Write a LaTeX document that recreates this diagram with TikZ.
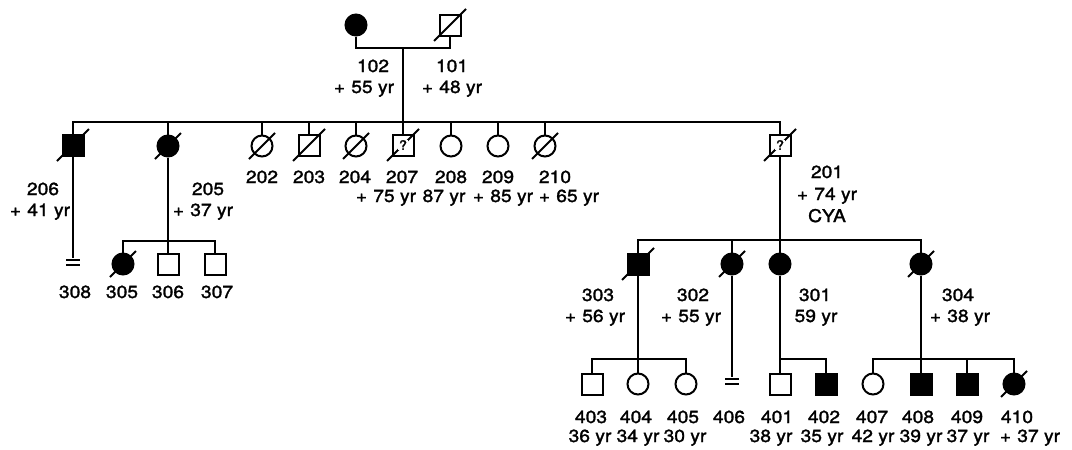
\documentclass[tikz,border=0pt]{standalone}
\usepackage{fontspec}
\setmainfont{TeX Gyre Heros}[FakeStretch=1.1,FakeBold=1.6]
\newcommand\slsq[1]{\draw ([shift={(-16,16)}]#1.center) -- ([shift={(16,-16)}]#1.center);}
\newcommand\slci[1]{\draw ([shift={(-13,13)}]#1.center) -- ([shift={(13,-13)}]#1.center);}
\newcommand\bars[1]{\draw ([shift={(-7,2)}]#1) -- ([shift={(7,2)}]#1); \draw ([shift={(-7,7)}]#1) -- ([shift={(7,7)}]#1);}
\begin{document}
\begin{tikzpicture}[x=1pt,y=-1pt,line width=2pt,
  sq/.style={draw,rectangle,minimum size=21pt,inner sep=0pt},
  ci/.style={draw,circle,minimum size=21pt,inner sep=0pt},
  aff/.style={fill=black},
  lb/.style={inner sep=0pt,anchor=base,font=\fontsize{17.5}{19}\selectfont},
  qm/.style={fill=white,inner sep=0.6pt,font=\fontsize{13}{14}\selectfont}]
\useasboundingbox (0,0) rectangle (1072,450);
% generation I
\node[ci,aff] (n102) at (356,25) {};
\node[sq] (n101) at (450,25) {}; \slsq{n101}
\coordinate (mar) at (403,48);
\coordinate (s2) at (403,122);
\draw (n102.south) |- (mar) -| (n101.south);
\draw (mar) -- (s2);
\node[lb] (l102a) at (373,72) {102};
\node[lb] (l102b) at (364,93) {+\hspace{0.35em}55 yr};
\node[lb] (l101a) at (452,72) {101};
\node[lb] (l101b) at (452,93) {+\hspace{0.35em}48 yr};
% generation II
\node[sq,aff] (n206) at (73,145) {}; \slsq{n206}
\node[ci,aff] (n205) at (168,146) {}; \slci{n205}
\node[ci] (n202) at (262,146) {}; \slci{n202}
\node[sq] (n203) at (309,145) {}; \slsq{n203}
\node[ci] (n204) at (356,146) {}; \slci{n204}
\node[sq] (n207) at (403,145) {}; \slsq{n207}
\node[qm] (q207) at (n207.center) {?};
\node[ci] (n208) at (451,146) {};
\node[ci] (n209) at (498,146) {};
\node[ci] (n210) at (545,146) {}; \slci{n210}
\node[sq] (n201) at (780,145) {}; \slsq{n201}
\node[qm] (q201) at (n201.center) {?};
\draw (n206.north) |- (s2) -| (n201.north);
\foreach \n in {205,202,203,204,207,208,209,210}{\draw (n\n.north) -- (n\n.north |- s2);}
\node[lb] (l206a) at (43,195) {206};
\node[lb] (l206b) at (40,216) {+\hspace{0.35em}41 yr};
\node[lb] (l205a) at (208,195) {205};
\node[lb] (l205b) at (203,216) {+\hspace{0.35em}37 yr};
\node[lb] (l202) at (262,183) {202};
\node[lb] (l203) at (309,183) {203};
\node[lb] (l204) at (355,183) {204};
\node[lb] (l207a) at (402,183) {207};
\node[lb] (l207b) at (386,202) {+\hspace{0.35em}75 yr};
\node[lb] (l208a) at (451,183) {208};
\node[lb] (l208b) at (444,202) {87 yr};
\node[lb] (l209a) at (498,183) {209};
\node[lb] (l209b) at (503,202) {+\hspace{0.35em}85 yr};
\node[lb] (l210a) at (555,183) {210};
\node[lb] (l210b) at (569,202) {+\hspace{0.35em}65 yr};
\node[lb] (l201a) at (827,178) {201};
\node[lb] (l201b) at (827,200) {+\hspace{0.35em}74 yr};
\node[lb] (l201c) at (827,222) {CYA};
% generation III, left
\coordinate (s3l) at (168,241);
\coordinate (m308) at (73,258);
\draw (n206) -- (m308); \bars{m308}
\node[ci,aff] (n305) at (123,264) {}; \slci{n305}
\node[sq] (n306) at (168,264) {};
\node[sq] (n307) at (215,264) {};
\draw (n205) -- (s3l);
\draw (n305.north) |- (s3l) -| (n307.north);
\draw (n306.north) -- (n306.north |- s3l);
\node[lb] (l308) at (75,298) {308};
\node[lb] (l305) at (122,298) {305};
\node[lb] (l306) at (168,298) {306};
\node[lb] (l307) at (217,298) {307};
% generation III, right
\coordinate (s3r) at (780,240);
\node[sq,aff] (n303) at (638,264) {}; \slsq{n303}
\node[ci,aff] (n302) at (732,264) {}; \slci{n302}
\node[ci,aff] (n301) at (780,264) {};
\node[ci,aff] (n304) at (921,264) {}; \slci{n304}
\draw (n201) -- (n301);
\draw (n303.north) |- (s3r) -| (n304.north);
\draw (n302.north) -- (n302.north |- s3r);
\node[lb] (l303a) at (598,301) {303};
\node[lb] (l303b) at (595,322) {+\hspace{0.35em}56 yr};
\node[lb] (l302a) at (693,301) {302};
\node[lb] (l302b) at (691,322) {+\hspace{0.35em}55 yr};
\node[lb] (l301a) at (815,301) {301};
\node[lb] (l301b) at (816,322) {59 yr};
\node[lb] (l304a) at (958,301) {304};
\node[lb] (l304b) at (960,322) {+\hspace{0.35em}38 yr};
% generation IV
\node[sq] (n403) at (592,384) {};
\node[ci] (n404) at (638,384) {};
\node[ci] (n405) at (686,384) {};
\coordinate (m406) at (732,377);
\node[sq] (n401) at (780,384) {};
\node[sq,aff] (n402) at (826,384) {};
\node[ci] (n407) at (873,384) {};
\node[sq,aff] (n408) at (921,384) {};
\node[sq,aff] (n409) at (967,384) {};
\node[ci,aff] (n410) at (1014,384) {}; \slci{n410}
\draw (n302) -- (m406); \bars{m406}
\draw (n303) -- (n404);
\draw (n403.north) |- (n404.north |- 0,359) -| (n405.north);
\draw (n301) -- (n401);
\draw (n401.north |- 0,359) -| (n402.north);
\draw (n304) -- (n408);
\draw (n407.north) |- (n408.north |- 0,359) -| (n410.north);
\draw (n409.north) -- (n409.north |- 0,359);
\node[lb] (l403a) at (591,423) {403};
\node[lb] (l403b) at (590,442) {36 yr};
\node[lb] (l404a) at (636,423) {404};
\node[lb] (l404b) at (638,442) {34 yr};
\node[lb] (l405a) at (683,423) {405};
\node[lb] (l405b) at (685,442) {30 yr};
\node[lb] (l406a) at (729,423) {406};
\node[lb] (l401a) at (777,423) {401};
\node[lb] (l401b) at (771,442) {38 yr};
\node[lb] (l402a) at (824,423) {402};
\node[lb] (l402b) at (822,442) {35 yr};
\node[lb] (l407a) at (872,423) {407};
\node[lb] (l407b) at (873,442) {42 yr};
\node[lb] (l408a) at (918,423) {408};
\node[lb] (l408b) at (921,442) {39 yr};
\node[lb] (l409a) at (967,423) {409};
\node[lb] (l409b) at (968,442) {37 yr};
\node[lb] (l410a) at (1017,423) {410};
\node[lb] (l410b) at (1030,442) {+\hspace{0.35em}37 yr};
\end{tikzpicture}
\end{document}
